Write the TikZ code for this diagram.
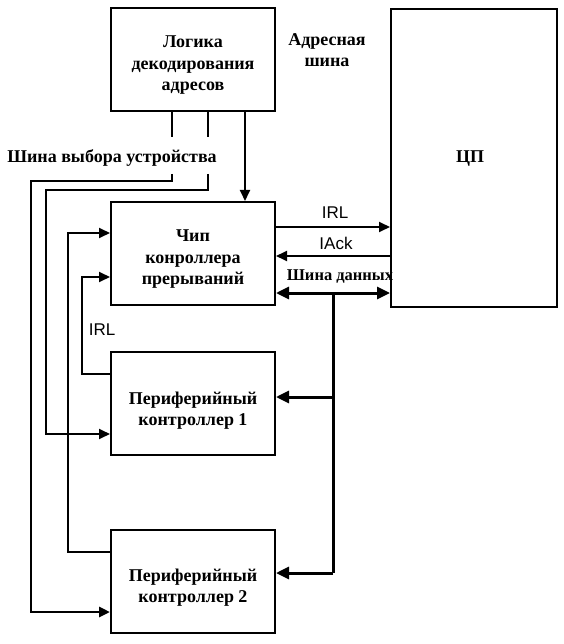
\documentclass[tikz,border=0pt]{standalone}
\usepackage{fontspec}
\setmainfont{Liberation Serif}
\newfontfamily\sigfont{Liberation Sans}
\usetikzlibrary{arrows.meta}

\tikzset{
  block/.style={draw, line width=2pt, minimum width=164pt, minimum height=103pt, inner sep=0pt},
  blocktxt/.style={align=center, font=\bfseries\fontsize{18}{21.5}\selectfont, inner sep=0pt},
  sig/.style={line width=1.8pt, -{Triangle[length=11pt,width=10pt]}},
  wire/.style={line width=1.8pt},
  selbus/.style={line width=2.8pt},
  dbus/.style={line width=3pt},
  lbl/.style={font=\bfseries\fontsize{18}{21.5}\selectfont, align=center, inner sep=1pt},
  siglbl/.style={font=\sigfont\fontsize{17}{19}\selectfont, inner sep=1pt}
}

\begin{document}
\begin{tikzpicture}[x=1pt, y=-1pt]
			\useasboundingbox (0,0) rectangle (563,644);
			
			% Blocks
			\node[block] (logic) at (193,59.5) {};
			\node[block] (ic) at (193,253.5) {};
			\node[block] (p1) at (193,403.5) {};
			\node[block] (p2) at (193,581.5) {};
			\node[block, minimum width=166pt, minimum height=298pt] (cpu) at (474,158) {};
			
			% Block texts
			\node[blocktxt] (logictxt) at ([yshift=-6pt]logic.center) {Логика\\декодирования\\адресов};
			\node[blocktxt] (ictxt) at ([yshift=-6pt]ic.center) {Чип\\конроллера\\прерываний};
			\node[blocktxt] (p1txt) at ([yshift=-7pt]p1.center) {Периферийный\\контроллер 1};
			\node[blocktxt] (p2txt) at ([yshift=-6pt]p2.center) {Периферийный\\контроллер 2};
			\node[lbl] (cputxt) at (470,159) {ЦП};
			
			% Bus labels
			\node[lbl] (addr) at (327,50) {Адресная\\шина};
			\node[lbl] (sel) at (112,158) {Шина выбора устройства};
			\node[lbl, font=\bfseries\fontsize{16.5}{19}\selectfont] (data) at (340,277) {Шина данных};
			
			% Device select bus (broken by its label)
			\coordinate (sa1) at (172,137);
			\coordinate (sb1) at (172,174);
			\coordinate (sa2) at (208,137);
			\coordinate (sb2) at (208,174);
			\draw[selbus] (logic.south -| sa1) -- (sa1);
			\draw[wire] (logic.south -| sa2) -- (sa2);
			\draw[selbus, -{Triangle[length=11pt,width=10pt]}] (sb1) -- (172,181) -| (31,612) -- ([yshift=-30.5pt]p2.west);
			\draw[sig] (sb2) -- (208,190) -| (46,434) -- ([yshift=-30.5pt]p1.west);
			
			% Address decode to interrupt controller
			\draw[sig] ([xshift=52pt]logic.south) -- ([xshift=52pt]ic.north);
			
			% IRL and IAck between controller and CPU
			\draw[sig] ([yshift=26.5pt]ic.east) -- ([yshift=26.5pt]ic.east -| cpu.west);
			\draw[sig] ([yshift=-2.5pt]ic.east -| cpu.west) -- ([yshift=-2.5pt]ic.east);
			\node[siglbl] (irl) at (335,213) {IRL};
			\node[siglbl] (iack) at (336,243) {IAck};
			
			% Interrupt requests from peripherals
			\draw[sig] ([yshift=29.5pt]p1.west) -| (82,277) -- ([yshift=-23.5pt]ic.west);
			\draw[sig] ([yshift=29.5pt]p2.west) -| (68,233) -- ([yshift=20.5pt]ic.west);
			\node[siglbl] (irlp) at (102,330) {IRL};
			
			% Data bus
			\coordinate (db) at (333,293);
			\coordinate (dp1) at (333,397);
			\coordinate (dp2) at (333,573);
			\draw[dbus, {Triangle[length=13pt,width=12pt]}-{Triangle[length=13pt,width=12pt]}] (ic.east |- db) -- (cpu.west |- db);
			\draw[dbus] (db) -- (dp2);
			\draw[dbus, -{Triangle[length=13pt,width=12pt]}] (dp1) -- (p1.east |- dp1);
			\draw[dbus, -{Triangle[length=13pt,width=12pt]}] (dp2) -- (p2.east |- dp2);
			
		\end{tikzpicture}
\end{document}
